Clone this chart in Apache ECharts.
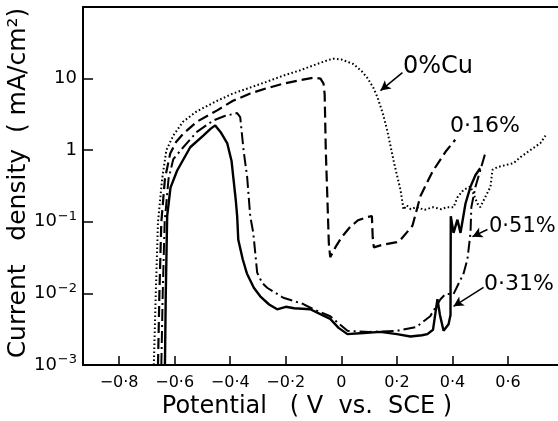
<!DOCTYPE html>
<html>
<head>
<meta charset="utf-8">
<script src="https://cdn.jsdelivr.net/npm/echarts@6/dist/echarts.min.js"></script>
<style>html,body{margin:0;padding:0;background:#fff}#c{width:558px;height:421px}</style>
</head>
<body>
<div id="c"></div>
<script>
// ---- data (potential V vs SCE, current density mA/cm2) ----
const potentialTicks = [-0.8, -0.6, -0.4, -0.2, 0, 0.2, 0.4, 0.6];
const currentTicks = [0.001, 0.01, 0.1, 1, 10];
const currentTickBase = ['10', '10', '10', '1', '10'];
const currentTickExp = ['\u22123', '\u22122', '\u22121', '', ''];

const cu0V = [-0.675,-0.668,-0.66,-0.645,-0.63,-0.605,-0.57,-0.52,-0.447,-0.39,-0.328,-0.27,-0.209,-0.15,-0.087,-0.05,-0.03,0.0,0.043,0.075,0.093,0.115,0.13,0.15,0.165,0.188,0.2,0.213,0.224,0.235,0.25,0.27,0.3,0.33,0.36,0.38,0.404,0.418,0.44,0.465,0.49,0.50,0.537,0.544,0.562,0.62,0.645,0.68,0.717,0.735];
const cu0I = [0.001,0.01,0.1,0.4,1.0,1.6,2.5,3.5,4.9,6.2,7.5,9,11,13,16,18,19,18.5,16,12.5,10.3,7.5,5.5,3.2,1.9,0.72,0.45,0.28,0.148,0.17,0.15,0.16,0.147,0.16,0.15,0.16,0.16,0.22,0.28,0.31,0.18,0.16,0.31,0.53,0.58,0.66,0.8,1.0,1.26,1.6];

const cu016V = [-0.66,-0.655,-0.648,-0.635,-0.616,-0.595,-0.569,-0.52,-0.447,-0.39,-0.328,-0.27,-0.209,-0.15,-0.1,-0.075,-0.064,-0.06,-0.056,-0.05,-0.045,-0.04,-0.02,0.0,0.032,0.06,0.094,0.11,0.113,0.117,0.15,0.2,0.213,0.256,0.285,0.328,0.375,0.41];
const cu016I = [0.001,0.01,0.1,0.4,0.9,1.3,1.7,2.5,3.6,4.9,6.2,7.3,8.5,9.5,10.3,10,8.5,6,1,0.2,0.05,0.032,0.045,0.06,0.085,0.105,0.117,0.12,0.06,0.044,0.048,0.052,0.056,0.088,0.23,0.5,0.95,1.4];

const cu051V = [-0.648,-0.643,-0.636,-0.622,-0.605,-0.569,-0.52,-0.461,-0.42,-0.375,-0.364,-0.352,-0.339,-0.328,-0.317,-0.303,-0.285,-0.267,-0.209,-0.137,-0.1,-0.04,0.022,0.1,0.2,0.27,0.32,0.357,0.375,0.404,0.44,0.454,0.465,0.468,0.483,0.519];
const cu051I = [0.001,0.01,0.1,0.4,0.75,1.1,1.8,2.6,3.0,3.3,2.9,1.0,0.42,0.12,0.07,0.0195,0.014,0.012,0.0087,0.0071,0.006,0.0048,0.003,0.0029,0.003,0.0034,0.0048,0.0083,0.0098,0.0098,0.019,0.03,0.07,0.16,0.31,0.93];

const cu031V = [-0.635,-0.632,-0.627,-0.615,-0.591,-0.544,-0.497,-0.47,-0.454,-0.435,-0.411,-0.395,-0.389,-0.38,-0.375,-0.371,-0.355,-0.34,-0.315,-0.292,-0.26,-0.231,-0.2,-0.17,-0.112,-0.07,-0.04,-0.01,0.022,0.08,0.14,0.2,0.249,0.29,0.31,0.33,0.346,0.355,0.368,0.386,0.393,0.394,0.404,0.418,0.429,0.447,0.465,0.483,0.5];
const cu031I = [0.001,0.01,0.12,0.3,0.52,1.1,1.6,2.0,2.22,1.8,1.26,0.7,0.42,0.2,0.12,0.056,0.03,0.019,0.012,0.0091,0.007,0.006,0.0065,0.0062,0.006,0.005,0.0044,0.0033,0.0027,0.0028,0.0029,0.0027,0.0025,0.0026,0.0027,0.0031,0.0083,0.005,0.003,0.0037,0.005,0.12,0.07,0.107,0.07,0.18,0.31,0.45,0.56];

const zip = (a, b) => a.map((v, i) => [v, b[i]]);

const chart = echarts.init(document.getElementById('c'), null, {renderer: 'canvas'});
const black = '#000';
const FONT = 'DejaVu Sans';

chart.setOption({
  animation: false,
  backgroundColor: '#fff',
  grid: {left: 83, right: 0, top: 7, bottom: 56},
  xAxis: [{
    type: 'value', min: -0.93, max: 0.78,
    axisLine: {onZero: false, lineStyle: {color: black, width: 2}},
    axisTick: {inside: true, length: 9, lineStyle: {color: black, width: 1.5}, customValues: potentialTicks},
    axisLabel: {customValues: potentialTicks, color: black, fontFamily: FONT, fontSize: 16, margin: 10,
      formatter: v => (v < 0 ? '\u2212' : '') + (Math.abs(v) < 1e-9 ? '0' : Math.abs(v).toFixed(1).replace('.', '·'))},
    splitLine: {show: false}
  }, {
    type: 'value', min: -0.93, max: 0.78, position: 'top',
    axisLine: {show: true, onZero: false, lineStyle: {color: black, width: 2}},
    axisTick: {show: false}, axisLabel: {show: false}, splitLine: {show: false}
  }],
  yAxis: {
    type: 'log', logBase: 10, min: 0.001, max: 100,
    axisLine: {onZero: false, lineStyle: {color: black, width: 2}},
    axisTick: {inside: true, length: 10, lineStyle: {color: black, width: 1.5}},
    axisLabel: {color: black, fontFamily: FONT, fontSize: 18, margin: 6,
      formatter: v => {
        const k = Math.round(Math.log10(v));
        const i = currentTicks.findIndex(t => Math.round(Math.log10(t)) === k);
        if (i < 0) return '';
        return '{b|' + currentTickBase[i] + '}' + (currentTickExp[i] ? '{s|' + currentTickExp[i] + '}' : '');
      },
      rich: {
        b: {fontFamily: FONT, fontSize: 18, color: black, lineHeight: 22},
        s: {fontFamily: FONT, fontSize: 13, color: black, lineHeight: 22, padding: [0, 0, 10, 1]}
      }},
    splitLine: {show: false}, minorTick: {show: false}
  },
  series: [
    {type: 'line', name: '0%Cu', data: zip(cu0V, cu0I), showSymbol: false, symbol: 'none',
     lineStyle: {color: black, width: 2, type: [1.6, 2.4]},
     markLine: {silent: true, symbol: ['none', 'arrow'], symbolSize: [8, 10], label: {show: false},
       lineStyle: {color: black, width: 1.5, type: 'solid'},
       data: [
         [{coord: [0.22, 12.1]}, {coord: [0.141, 6.8]}],
         [{coord: [0.526, 0.078]}, {coord: [0.472, 0.062]}],
         [{coord: [0.512, 0.0121]}, {coord: [0.404, 0.0066]}]
       ]}},
    {type: 'line', name: '0.16%', data: zip(cu016V, cu016I), showSymbol: false, symbol: 'none',
     lineStyle: {color: black, width: 2.2, type: [11, 5]}},
    {type: 'line', name: '0.51%', data: zip(cu051V, cu051I), showSymbol: false, symbol: 'none',
     lineStyle: {color: black, width: 2, type: [12, 4, 2, 4]}},
    {type: 'line', name: '0.31%', data: zip(cu031V, cu031I), showSymbol: false, symbol: 'none',
     lineStyle: {color: black, width: 2.4, type: 'solid'}}
  ],
  graphic: [
    {type: 'text', x: 18, y: 183, rotation: Math.PI / 2,
     style: {text: 'Current   density  ( mA/cm²)', font: '25px "DejaVu Sans"', fill: black, textAlign: 'center', textVerticalAlign: 'middle'}},
    {type: 'text', x: 307, y: 407,
     style: {text: 'Potential   ( V  vs.  SCE )', font: '24px "DejaVu Sans"', fill: black, textAlign: 'center', textVerticalAlign: 'middle'}},
    {type: 'text', x: 403, y: 67, style: {text: '0%Cu', font: '24px "DejaVu Sans"', fill: black, textVerticalAlign: 'middle'}},
    {type: 'text', x: 450, y: 126, style: {text: '0·16%', font: '22px "DejaVu Sans"', fill: black, textVerticalAlign: 'middle'}},
    {type: 'text', x: 489, y: 227, style: {text: '0·51%', font: '21px "DejaVu Sans"', fill: black, textVerticalAlign: 'middle'}},
    {type: 'text', x: 484, y: 284, style: {text: '0·31%', font: '22px "DejaVu Sans"', fill: black, textVerticalAlign: 'middle'}}
  ]
});
</script>
</body>
</html>
